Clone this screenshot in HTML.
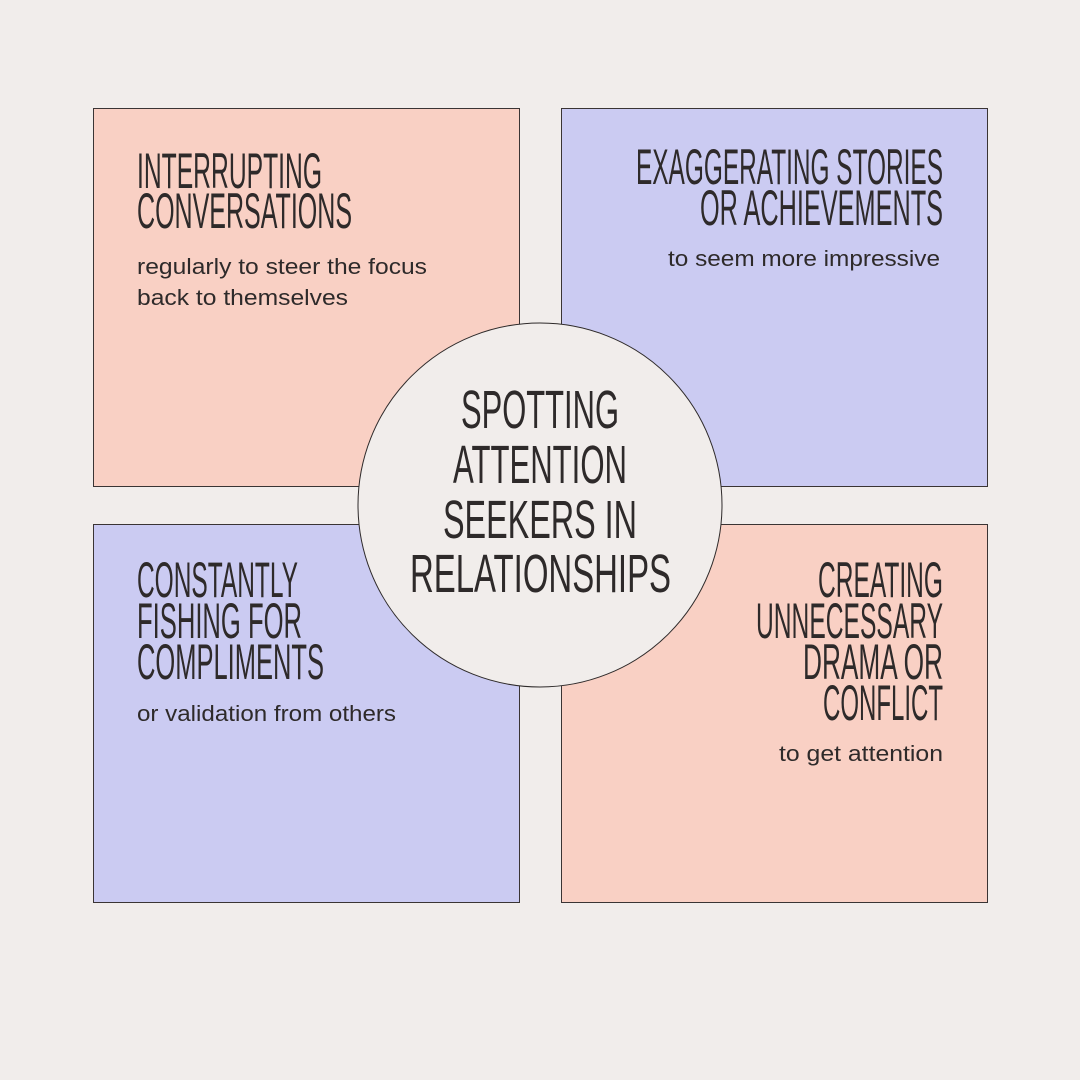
<!DOCTYPE html>
<html><head><meta charset="utf-8"><style>
html,body{margin:0;padding:0;background:#f1edeb;}
svg{display:block}
.h{font-family:"Liberation Sans",sans-serif;font-size:50px;fill:#2e2a2a;}
.c{font-family:"Liberation Sans",sans-serif;font-size:54px;fill:#2e2a2a;}
.b{font-family:"Liberation Sans",sans-serif;font-size:22px;fill:#2e2a2a;}
</style></head><body>
<svg width="1080" height="1080" viewBox="0 0 1080 1080" xmlns="http://www.w3.org/2000/svg">
<rect width="1080" height="1080" fill="#f1edeb"/>
<rect x="93.5" y="108.5" width="426" height="378" fill="#f9d0c4" stroke="#3a3434" stroke-width="1"/>
<rect x="561.5" y="108.5" width="426" height="378" fill="#cbcbf2" stroke="#3a3434" stroke-width="1"/>
<rect x="93.5" y="524.5" width="426" height="378" fill="#cbcbf2" stroke="#3a3434" stroke-width="1"/>
<rect x="561.5" y="524.5" width="426" height="378" fill="#f9d0c4" stroke="#3a3434" stroke-width="1"/>
<circle cx="540" cy="505" r="182" fill="#f1edeb" stroke="#2e2a2a" stroke-width="1"/>

<text class="h" x="137" y="188" textLength="185" lengthAdjust="spacingAndGlyphs">INTERRUPTING</text>
<text class="h" x="137" y="228" textLength="215" lengthAdjust="spacingAndGlyphs">CONVERSATIONS</text>
<text class="b" x="137" y="274" textLength="290" lengthAdjust="spacingAndGlyphs">regularly to steer the focus</text>
<text class="b" x="137" y="305" textLength="211" lengthAdjust="spacingAndGlyphs">back to themselves</text>

<text class="h" x="636" y="184" textLength="307" lengthAdjust="spacingAndGlyphs">EXAGGERATING STORIES</text>
<text class="h" x="700" y="225" textLength="243" lengthAdjust="spacingAndGlyphs">OR ACHIEVEMENTS</text>
<text class="b" x="668" y="266" textLength="272" lengthAdjust="spacingAndGlyphs">to seem more impressive</text>

<text class="h" x="137" y="597" textLength="161" lengthAdjust="spacingAndGlyphs">CONSTANTLY</text>
<text class="h" x="137" y="638" textLength="165" lengthAdjust="spacingAndGlyphs">FISHING FOR</text>
<text class="h" x="137" y="679" textLength="187" lengthAdjust="spacingAndGlyphs">COMPLIMENTS</text>
<text class="b" x="137" y="721" textLength="259" lengthAdjust="spacingAndGlyphs">or validation from others</text>

<text class="h" x="818" y="597" textLength="125" lengthAdjust="spacingAndGlyphs">CREATING</text>
<text class="h" x="756" y="638" textLength="187" lengthAdjust="spacingAndGlyphs">UNNECESSARY</text>
<text class="h" x="803" y="679" textLength="140" lengthAdjust="spacingAndGlyphs">DRAMA OR</text>
<text class="h" x="823" y="720" textLength="120" lengthAdjust="spacingAndGlyphs">CONFLICT</text>
<text class="b" x="779" y="761" textLength="164" lengthAdjust="spacingAndGlyphs">to get attention</text>

<text class="c" x="461" y="428" textLength="158" lengthAdjust="spacingAndGlyphs">SPOTTING</text>
<text class="c" x="453" y="483" textLength="174" lengthAdjust="spacingAndGlyphs">ATTENTION</text>
<text class="c" x="443" y="538" textLength="194" lengthAdjust="spacingAndGlyphs">SEEKERS IN</text>
<text class="c" x="410" y="592" textLength="261" lengthAdjust="spacingAndGlyphs">RELATIONSHIPS</text>
</svg>
</body></html>
